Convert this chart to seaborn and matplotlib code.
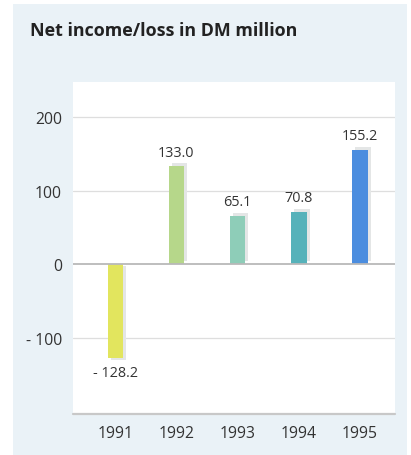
import matplotlib
matplotlib.use("Agg")
import matplotlib.pyplot as plt
import matplotlib.transforms as mtransforms
from matplotlib.patches import Rectangle
import seaborn as sns
import pandas as pd
import numpy as np

# Net income / loss per year (DM million)
years = ["1991", "1992", "1993", "1994", "1995"]
net_income = [-128.2, 133.0, 65.1, 70.8, 155.2]
value_labels = ["- 128.2", "133.0", "65.1", "70.8", "155.2"]
bar_colors = ["#e2e55e", "#b6d78a", "#8ecdb8", "#56b2ba", "#4b8ddf"]
ytick_values = [200, 100, 0, -100]
ytick_labels = ["200", "100", "0", "- 100"]

df = pd.DataFrame({"year": years, "value": net_income})

sns.set_theme(style="white")
plt.rcParams["font.family"] = ["Open Sans", "DejaVu Sans"]

fig = plt.figure(figsize=(4.11, 4.56), dpi=100)
fig.patch.set_facecolor("white")

# light blue panel behind the chart
panel = Rectangle((13 / 411, 0.0), (407 - 13) / 411, (451) / 456,
                  transform=fig.transFigure, facecolor="#eaf2f7",
                  edgecolor="none", zorder=-10)
fig.patches.append(panel)

ax = fig.add_axes([73 / 411, 1 - 415 / 456, (395 - 73) / 411, (415 - 83) / 456])
ax.set_zorder(1)
ax.set_facecolor("white")

# soft grey drop shadow behind each bar (offset right and away from zero)
pos = np.arange(len(years))
vals = np.array(net_income)
up_tf = ax.transData + mtransforms.ScaledTranslation(3 / 100, 3 / 100, fig.dpi_scale_trans)
down_tf = ax.transData + mtransforms.ScaledTranslation(3 / 100, -2 / 100, fig.dpi_scale_trans)
pos_mask = vals >= 0
ax.bar(pos[pos_mask], vals[pos_mask], width=0.25, color="#e4e6e6", linewidth=0,
       transform=up_tf, zorder=2)
ax.bar(pos[~pos_mask], vals[~pos_mask], width=0.25, color="#e4e6e6", linewidth=0,
       transform=down_tf, zorder=2)

sns.barplot(data=df, x="year", y="value", hue="year", palette=bar_colors,
            legend=False, width=0.25, ax=ax, zorder=3, saturation=1,
            linewidth=0)

ax.set_xlim(-0.69, 4.57)
ax.set_ylim(-204, 248)

# horizontal grid
for v in [200, 100, -100]:
    ax.axhline(v, color="#dedede", lw=0.9, zorder=1)
ax.axhline(0, color="#b9b9b9", lw=1.3, zorder=4)
ax.axhline(-204, color="#c8c8c8", lw=1.6, zorder=4, clip_on=False)

for sp in ax.spines.values():
    sp.set_visible(False)

ax.set_yticks(ytick_values)
ax.set_yticklabels(ytick_labels)
ax.tick_params(axis="y", length=0, pad=8, labelsize=11.3, labelcolor="#333333")
ax.tick_params(axis="x", length=0, pad=8, labelsize=11.3, labelcolor="#333333")
ax.set_xlabel("")
ax.set_ylabel("")

for i, (v, lab) in enumerate(zip(net_income, value_labels)):
    if v >= 0:
        ax.annotate(lab, (i, v), xytext=(0, 5), textcoords="offset points",
                    ha="center", va="bottom", fontsize=10.4, color="#333333")
    else:
        ax.annotate(lab, (i, v), xytext=(0, -5), textcoords="offset points",
                    ha="center", va="top", fontsize=10.4, color="#333333")

fig.text(30 / 411, 1 - 31 / 456, "Net income/loss in DM million",
         fontsize=12.9, fontweight="bold", color="#222222", va="center", ha="left")

fig.savefig("out.png", dpi=100, facecolor=fig.get_facecolor())
